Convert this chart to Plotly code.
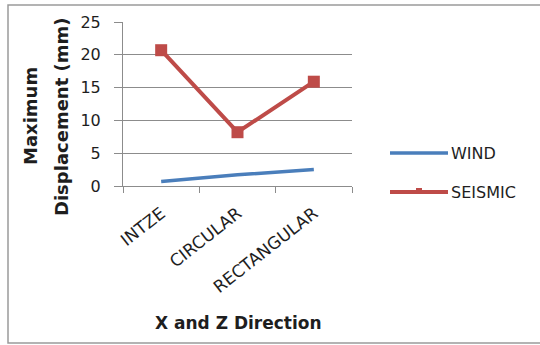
import plotly.graph_objects as go

# Tank types and maximum displacement (mm) per load case
categories = ["INTZE", "CIRCULAR", "RECTANGULAR"]
wind = [0.7, 1.7, 2.5]
seismic = [20.7, 8.2, 15.9]
y_ticks = [0, 5, 10, 15, 20, 25]

WIND_COLOR = "#4A7EBB"
SEISMIC_COLOR = "#BE4B48"
AXIS_COLOR = "#8c8c8c"
TEXT_COLOR = "#1e1e1e"
FONT = "DejaVu Sans, sans-serif"

# plot-area geometry in pixels
L, R, T, B = 123, 352, 22, 186
W, H = R - L, B - T


def px_x(x):
    return (x - L) / W


def px_y(y):
    return (B - y) / H


fig = go.Figure()
fig.add_trace(go.Scatter(x=categories, y=wind, mode="lines", name="WIND",
                         line=dict(color=WIND_COLOR, width=3.5)))
fig.add_trace(go.Scatter(x=categories, y=seismic, mode="lines+markers", name="SEISMIC",
                         line=dict(color=SEISMIC_COLOR, width=4),
                         marker=dict(symbol="square", size=12, color=SEISMIC_COLOR)))

fig.update_layout(
    width=540, height=345,
    margin=dict(l=L, r=540 - R, t=T, b=345 - B),
    paper_bgcolor="white", plot_bgcolor="white",
    showlegend=False,
    font=dict(family=FONT, color=TEXT_COLOR),
    xaxis=dict(
        type="category", range=[-0.5, len(categories) - 0.5],
        tickson="boundaries", ticks="outside", ticklen=6,
        tickcolor=AXIS_COLOR, showline=True, linecolor=AXIS_COLOR, linewidth=1,
        showgrid=False, tickangle=-38, ticklabelstandoff=10,
        tickfont=dict(size=17, family=FONT, color=TEXT_COLOR),
    ),
    yaxis=dict(
        range=[0, 25], tickvals=y_ticks, ticks="outside", ticklen=8,
        tickcolor=AXIS_COLOR, showline=True, linecolor=AXIS_COLOR, linewidth=1,
        showgrid=True, gridcolor=AXIS_COLOR, gridwidth=1, zeroline=False,
        ticklabelstandoff=10,
        tickfont=dict(size=16, family=FONT, color=TEXT_COLOR),
    ),
)

# Axis titles
fig.add_annotation(xref="paper", yref="paper", x=px_x(238), y=px_y(323),
                   text="<b>X and Z Direction</b>", showarrow=False,
                   xanchor="center", yanchor="middle",
                   font=dict(size=17, family=FONT, color=TEXT_COLOR))
for line, xc in [("Maximum", 30), ("Displacement (mm)", 61)]:
    fig.add_annotation(xref="paper", yref="paper", x=px_x(xc), y=px_y(116),
                       text=f"<b>{line}</b>", showarrow=False, textangle=-90,
                       xanchor="center", yanchor="middle",
                       font=dict(size=18, family=FONT, color=TEXT_COLOR))

# Outer chart border
fig.add_shape(type="rect", xref="paper", yref="paper",
              x0=px_x(8), x1=px_x(542), y0=px_y(343), y1=px_y(5),
              line=dict(color="#9a9a9a", width=1.5), fillcolor="rgba(0,0,0,0)")

# Legend drawn alongside the plot area
for label, color, y, width in [("WIND", WIND_COLOR, 153, 3.5), ("SEISMIC", SEISMIC_COLOR, 192, 4)]:
    fig.add_shape(type="line", xref="paper", yref="paper",
                  x0=px_x(390), x1=px_x(448), y0=px_y(y), y1=px_y(y),
                  line=dict(color=color, width=width))
    fig.add_annotation(xref="paper", yref="paper", x=px_x(449), y=px_y(y),
                       text=label, showarrow=False, xanchor="left", yanchor="middle",
                       font=dict(size=16, family=FONT, color=TEXT_COLOR))
fig.add_shape(type="rect", xref="paper", yref="paper",
              x0=px_x(416), x1=px_x(422), y0=px_y(194), y1=px_y(188),
              line=dict(color=SEISMIC_COLOR, width=0), fillcolor=SEISMIC_COLOR)

fig.write_html("out.html")
